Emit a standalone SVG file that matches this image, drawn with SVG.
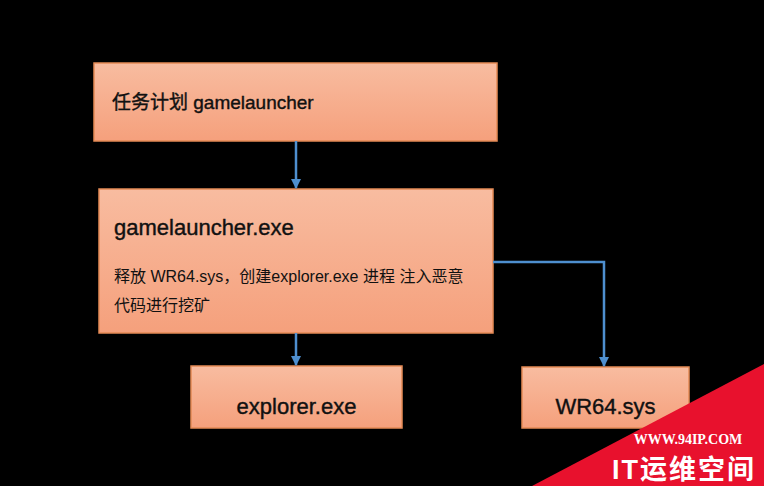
<svg xmlns="http://www.w3.org/2000/svg" width="764" height="486" viewBox="0 0 764 486">
<defs>
<linearGradient id="g" x1="0" y1="0" x2="0" y2="1"><stop offset="0" stop-color="#f8bca0"/><stop offset="1" stop-color="#f5a07c"/></linearGradient>
<marker id="ah" markerWidth="10" markerHeight="10" refX="9" refY="5" orient="auto" markerUnits="userSpaceOnUse"><path d="M0,0 L10,5 L0,10 z" fill="#4e8fcf"/></marker>
<style>
.box{fill:url(#g);stroke:#e58a55;stroke-width:1.5}
.t{font-family:"Liberation Sans","Noto Sans CJK SC",sans-serif;fill:#111}
.h{font-size:22px;stroke:#111;stroke-width:0.4}
.c{stroke:#4e8fcf;stroke-width:2.5;fill:none;marker-end:url(#ah)}
</style>
</defs>
<rect width="764" height="486" fill="#000"/>
<g id="n1"><rect class="box" x="94" y="63" width="403" height="78"/><text class="t h" x="112" y="109" style="font-size:19px">任务计划 gamelauncher</text></g>
<g id="n2"><rect class="box" x="99" y="189" width="394" height="144"/><text class="t h" x="114" y="235">gamelauncher.exe</text><text class="t" x="114" y="282" font-size="16">释放 WR64.sys，创建explorer.exe 进程 注入恶意</text><text class="t" x="114" y="311" font-size="16">代码进行挖矿</text></g>
<g id="n3"><rect class="box" x="191" y="366" width="211" height="62"/><text class="t h" x="296.500" y="414" text-anchor="middle">explorer.exe</text></g>
<g id="n4"><rect class="box" x="522" y="367" width="167" height="61"/><text class="t h" x="605.500" y="414" text-anchor="middle">WR64.sys</text></g>
<g id="connectors">
<path class="c" d="M296,141 V188"/>
<path class="c" d="M296,333 V365"/>
<path class="c" d="M493,262 H604 V366"/>
</g>
<g id="watermark">
<polygon points="764,364 764,486 532,486" fill="#e8112d"/>
<text x="688" y="444" font-family="Liberation Serif,serif" font-weight="bold" font-size="14" fill="#fff" text-anchor="middle">WWW.94IP.COM</text>
<text x="684" y="479" font-family="Liberation Sans,Noto Sans CJK SC,sans-serif" font-weight="bold" font-size="27" fill="#fff" text-anchor="middle" letter-spacing="2">IT运维空间</text>
</g>
</svg>
